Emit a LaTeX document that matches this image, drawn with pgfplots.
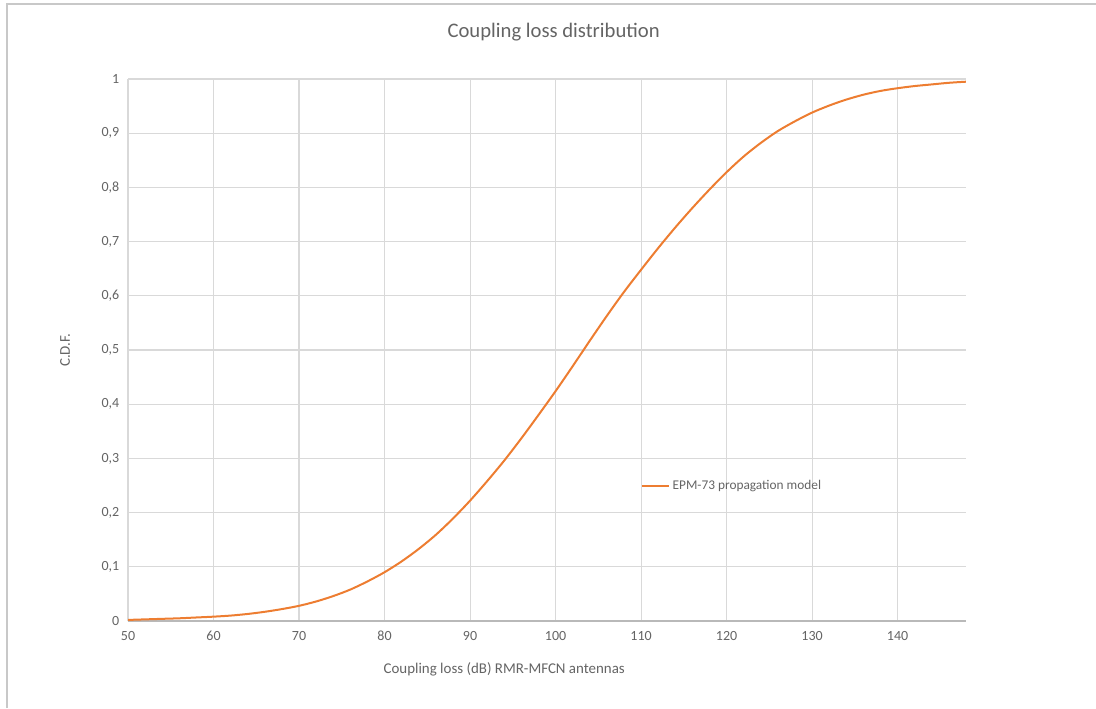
\documentclass[border=0pt]{standalone}
\usepackage{pgfplots}
\pgfplotsset{compat=1.18}
\usepackage{fontspec}
\setmainfont{Carlito}
\definecolor{exorange}{RGB}{237,125,49}
\definecolor{gridgray}{RGB}{217,217,217}
\definecolor{txtgray}{RGB}{100,100,100}
\definecolor{framegray}{RGB}{200,200,200}
\begin{document}
\begin{tikzpicture}[x=1pt,y=1pt]
\path[use as bounding box] (0,0) rectangle (822,531);
\draw[framegray, line width=0.8pt] (5.25,0) -- (5.25,528) -- (822,528);
\begin{axis}[
  at={(96pt,65.25pt)}, anchor=south west,
  scale only axis, width=628.5pt, height=406.5pt,
  xmin=50, xmax=148, ymin=0, ymax=1,
  xtick={50,60,70,80,90,100,110,120,130,140},
  ytick={0,0.1,0.2,0.3,0.4,0.5,0.6,0.7,0.8,0.9,1},
  yticklabels={0,{0,1},{0,2},{0,3},{0,4},{0,5},{0,6},{0,7},{0,8},{0,9},1},
  /pgf/number format/assume math mode=true,
  major tick length=0pt,
  xmajorgrids, ymajorgrids,
  grid style={gridgray, line width=0.8pt},
  axis line style={draw=none},
  tick label style={font=\fontsize{10.5}{12}\selectfont, text=txtgray},
  xticklabel style={yshift=-4pt},
  yticklabel style={xshift=-3pt},
  title={Coupling loss distribution},
  title style={font=\fontsize{15.5}{18}\selectfont, text=txtgray, at={(axis description cs:0.5,1)}, anchor=center, yshift=29pt, xshift=5pt},
  xlabel={Coupling loss (dB) RMR-MFCN antennas},
  xlabel style={font=\fontsize{11.2}{13}\selectfont, text=txtgray, at={(axis description cs:0.449,0)}, anchor=center, yshift=-36pt},
  ylabel={C.D.F.},
  ylabel style={font=\fontsize{11.2}{13}\selectfont, text=txtgray, at={(axis description cs:-0.0752,0.5)}, anchor=center, rotate=0},
  legend style={at={(axis cs:110,0.249)}, anchor=west, draw=none, fill=none, inner sep=0pt, font=\fontsize{10}{12}\selectfont, text=txtgray},
  legend cell align=left,
  legend image code/.code={\draw[#1] (0pt,0pt) -- (20pt,0pt);},
]
\draw[gray!55, line width=0.8pt] (axis cs:50,0) -- (axis cs:148,0);
\addplot[exorange, line width=1.5pt, smooth] coordinates {
(50,0.002) (52,0.003) (54,0.004) (56,0.005) (58,0.0065) (60,0.008)
(62,0.010) (64,0.013) (66,0.017) (68,0.022) (70,0.028) (72,0.036)
(74,0.046) (76,0.058) (78,0.073) (80,0.090) (82,0.110) (84,0.133)
(86,0.159) (88,0.189) (90,0.222) (92,0.258) (94,0.296) (96,0.337)
(98,0.380) (100,0.424) (102,0.470) (104,0.517) (106,0.563) (108,0.607)
(110,0.648) (112,0.688) (114,0.726) (116,0.762) (118,0.796) (120,0.828)
(122,0.857) (124,0.882) (126,0.904) (128,0.922) (130,0.938) (132,0.951)
(134,0.962) (136,0.971) (138,0.978) (140,0.983) (142,0.987) (144,0.990)
(146,0.993) (148,0.995)
};
\addlegendentry{EPM-73 propagation model}
\end{axis}
\end{tikzpicture}
\end{document}
